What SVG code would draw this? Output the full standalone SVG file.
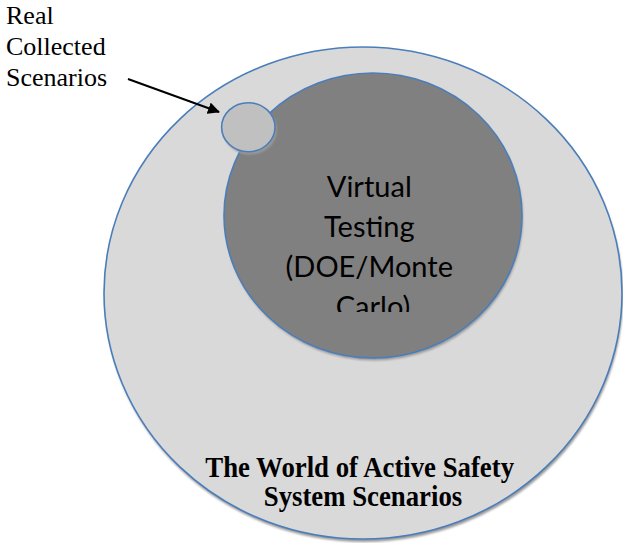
<svg xmlns="http://www.w3.org/2000/svg" width="623" height="543" viewBox="0 0 623 543">
  <style>
    .ring { stroke: #4a7ebb; stroke-width: 1.6; }
    .shadow { fill: #9a9a9a; filter: url(#soft); }
    .serif { font-family: "Liberation Serif", "Times New Roman", serif; fill: #000; }
    .sans { font-family: Lato, "Open Sans", "Liberation Sans", sans-serif; fill: #000; }
  </style>
  <defs>
    <filter id="soft" x="-5%" y="-5%" width="110%" height="110%">
      <feGaussianBlur stdDeviation="1"/>
    </filter>
    <marker id="arrowhead" viewBox="0 0 12 12" refX="11" refY="6" markerWidth="12" markerHeight="12" markerUnits="userSpaceOnUse" orient="auto">
      <path d="M0,0 L12,6 L0,12 z" fill="#000"/>
    </marker>
    <clipPath id="innerText">
      <rect x="222" y="150" width="300" height="162"/>
    </clipPath>
  </defs>

  <rect width="623" height="543" fill="#fff"/>

  <!-- outer set: all scenarios -->
  <g id="world">
    <ellipse class="shadow" cx="364" cy="296" rx="259" ry="246"/>
    <ellipse class="ring" cx="363" cy="293" rx="259" ry="246" fill="#d9d9d9"/>
    <text class="serif" font-size="26" font-weight="bold" text-anchor="middle" transform="translate(363,477) scale(1.03,1.1)">
      <tspan x="0" y="0">The World of Active Safety</tspan>
      <tspan x="0" y="26">System Scenarios</tspan>
    </text>
  </g>

  <!-- inner set: simulated scenarios -->
  <g id="virtual">
    <ellipse class="shadow" cx="374" cy="218" rx="149" ry="142.5"/>
    <ellipse class="ring" cx="373" cy="215.5" rx="149" ry="142.5" fill="#808080"/>
    <g clip-path="url(#innerText)">
      <text class="sans" font-size="29" text-anchor="middle">
        <tspan x="373" y="197">Virtual</tspan>
        <tspan x="373" y="237">Testing</tspan>
        <tspan x="373" y="277">(DOE/Monte</tspan>
        <tspan x="373" y="317">Carlo)</tspan>
      </text>
    </g>
  </g>

  <!-- small set: recorded scenarios -->
  <g id="real">
    <ellipse class="shadow" cx="250" cy="130" rx="26.7" ry="24.5"/>
    <ellipse class="ring" cx="248.3" cy="127.2" rx="26.7" ry="24.5" fill="#c0c0c0"/>
  </g>

  <g id="label">
    <text class="serif" font-size="26">
      <tspan x="6" y="24">Real</tspan>
      <tspan x="6" y="55">Collected</tspan>
      <tspan x="6" y="86">Scenarios</tspan>
    </text>
  </g>

  <g id="connectors">
    <line x1="128" y1="79" x2="219" y2="112" stroke="#000" stroke-width="2" marker-end="url(#arrowhead)"/>
  </g>
</svg>
